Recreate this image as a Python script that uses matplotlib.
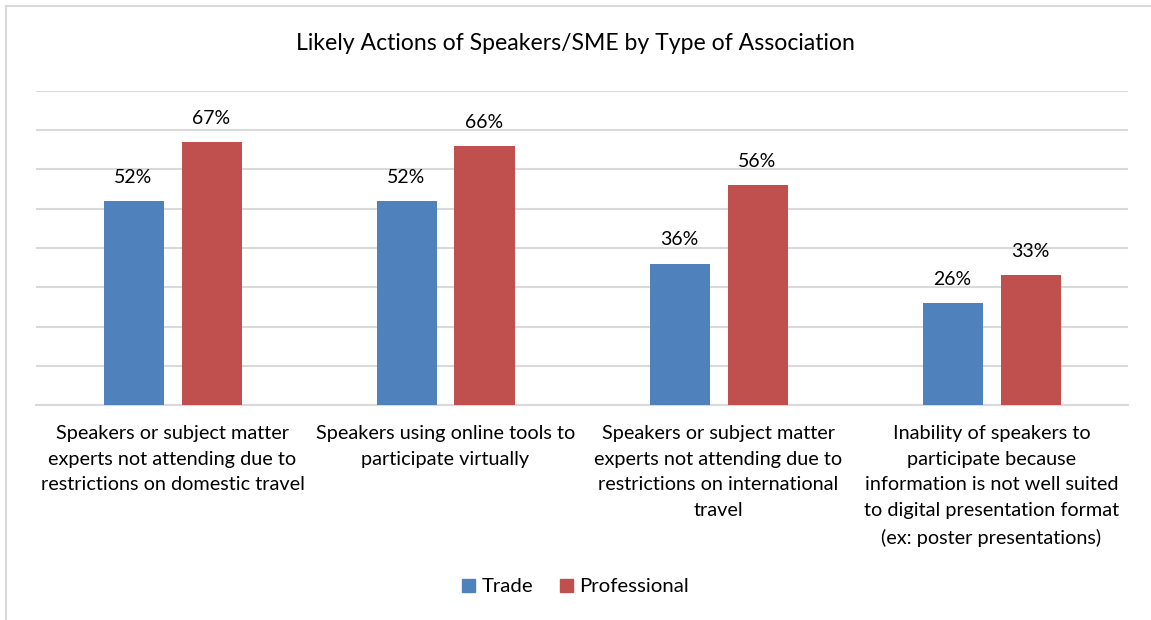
import matplotlib
matplotlib.use("Agg")
import matplotlib.pyplot as plt
from matplotlib.lines import Line2D
from matplotlib.patches import Patch
import numpy as np

categories = [
    "Speakers or subject matter\nexperts not attending due to\nrestrictions on domestic travel",
    "Speakers using online tools to\nparticipate virtually",
    "Speakers or subject matter\nexperts not attending due to\nrestrictions on international\ntravel",
    "Inability of speakers to\nparticipate because\ninformation is not well suited\nto digital presentation format\n(ex: poster presentations)",
]
trade = [52, 52, 36, 26]
professional = [67, 66, 56, 33]
series_names = ["Trade", "Professional"]
colors = ["#4F81BD", "#C0504D"]
title = "Likely Actions of Speakers/SME by Type of Association"

plt.rcParams['font.family'] = ['Lato', 'DejaVu Sans']

W, H = 1151, 620
fig = plt.figure(figsize=(W / 100, H / 100), dpi=100)
ax = fig.add_axes([36 / W, 1 - 405 / H, (1128 - 36) / W, (405 - 91) / H])

x = np.arange(len(categories))
bw = 60 / 273
gap = 18 / 273
off = (bw + gap) / 2
b1 = ax.bar(x - off, trade, bw, color=colors[0], zorder=3)
b2 = ax.bar(x + off, professional, bw, color=colors[1], zorder=3)

for bars, vals in ((b1, trade), (b2, professional)):
    for r, v in zip(bars, vals):
        ax.annotate(f"{v}%", (r.get_x() + r.get_width() / 2, v), xytext=(0, 11),
                    textcoords="offset points", ha="center", va="bottom",
                    fontsize=14, color="#000000")

ax.set_xlim(-0.5, len(categories) - 0.5)
ax.set_ylim(0, 80)
ax.set_yticks(np.arange(0, 81, 10))
ax.yaxis.grid(True, color="#D9D9D9", linewidth=1.5, zorder=0)
ax.tick_params(axis="y", left=False, labelleft=False)
ax.tick_params(axis="x", length=0, pad=14.5)
ax.set_xticks(x)
ax.set_xticklabels(categories, fontsize=14.3, linespacing=1.62)
for s in ["top", "right", "left"]:
    ax.spines[s].set_visible(False)
ax.spines["bottom"].set_color("#D9D9D9")
ax.spines["bottom"].set_linewidth(1.5)

fig.text(0.5, 1 - 44 / H, title, ha="center", va="center", fontsize=16.6, color="#000000")

handles = [Patch(facecolor=c, edgecolor=c) for c in colors]
fig.legend(handles, series_names, loc="center", bbox_to_anchor=(0.5, 1 - 587 / H),
           ncol=2, frameon=False, fontsize=14.7, handlelength=0.65, handleheight=0.65,
           handletextpad=0.3, columnspacing=1.3)

# chart border (top and left visible)
fig.add_artist(Line2D([6 / W, 6 / W], [0, 1 - 6 / H], color="#D9D9D9", linewidth=1.5))
fig.add_artist(Line2D([6 / W, 1], [1 - 6 / H, 1 - 6 / H], color="#D9D9D9", linewidth=1.5))

fig.savefig("out.png", dpi=100)
